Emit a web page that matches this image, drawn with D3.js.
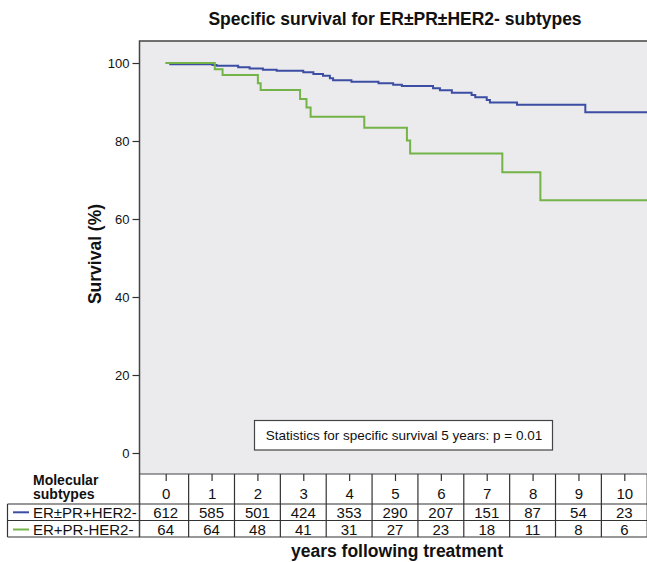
<!DOCTYPE html>
<html>
<head>
<meta charset="utf-8">
<script src="https://cdn.jsdelivr.net/npm/d3@7"></script>
<style>
  body { margin: 0; background: #fff; }
  svg text { font-family: "Liberation Sans", Arial, sans-serif; fill: #111; }
</style>
</head>
<body>
<div class="graph"></div>
<script>
// survival steps: [years, survival %]
var blueSteps = [[0,100],[0.1,99.7],[1.02,99.5],[1.11,99.3],[1.58,98.9],[1.83,98.6],[2.12,98.3],[2.42,98.0],
  [3.00,97.6],[3.22,97.2],[3.43,96.7],[3.58,96.1],[3.65,95.6],[4.05,95.2],[4.64,94.8],[4.96,94.4],
  [5.15,94.1],[5.83,93.5],[5.98,93.0],[6.24,92.4],[6.67,91.8],[6.75,91.2],[7.00,90.5],[7.07,89.9],
  [7.66,89.3],[9.15,87.4],[11,87.4]];
var greenSteps = [[0,100],[1.07,98.4],[1.24,96.9],[2.01,94.8],[2.07,93.1],[2.93,90.8],[3.07,88.6],
  [3.16,86.2],[4.33,83.4],[5.26,80.1],[5.33,76.8],[7.34,72.0],[8.17,64.8],[11,64.8]];

var subtypes = ["ER\u00b1PR+HER2-", "ER+PR-HER2-"];
var subtypeColors = ["#3b4ea3", "#74b347"];
var years = [0,1,2,3,4,5,6,7,8,9,10];
var atRisk = [
  [612,585,501,424,353,290,207,151,87,54,23],
  [64,64,48,41,31,27,23,18,11,8,6]
];
var yTicks = [0,20,40,60,80,100];

var width = 647, height = 562;

var x = d3.scaleLinear().domain([0, 10]).range([165.7, 624.3]);
var y = d3.scaleLinear().domain([0, 100]).range([453, 63]);

var plotLeft = 139.5, plotTop = 41, plotBottom = 474, plotRight = 647;
var tableLeft = 7.5, row1Top = 504, row2Top = 520.5, tableBottom = 537;

var svg = d3.select(".graph").append("svg")
    .attr("width", width)
    .attr("height", height);

// title
svg.append("text")
    .attr("x", 395).attr("y", 25)
    .attr("text-anchor", "middle")
    .style("font-size", "17.5px").style("font-weight", "bold")
    .text("Specific survival for ER\u00b1PR\u00b1HER2- subtypes");

// plot background
svg.append("rect")
    .attr("x", plotLeft).attr("y", plotTop)
    .attr("width", plotRight - plotLeft + 5).attr("height", plotBottom - plotTop)
    .attr("fill", "#ebebee");

svg.append("clipPath").attr("id", "clip")
  .append("rect")
    .attr("x", plotLeft).attr("y", plotTop)
    .attr("width", plotRight - plotLeft).attr("height", plotBottom - plotTop);

var valueline = d3.line()
    .curve(d3.curveStepAfter)
    .x(function(d) { return x(d[0]); })
    .y(function(d) { return y(d[1]); });

var curves = svg.append("g").attr("clip-path", "url(#clip)");

curves.append("path")
    .datum(blueSteps)
    .attr("fill", "none")
    .attr("stroke", subtypeColors[0])
    .attr("stroke-width", 2)
    .attr("d", valueline);

curves.append("path")
    .datum(greenSteps)
    .attr("fill", "none")
    .attr("stroke", subtypeColors[1])
    .attr("stroke-width", 2)
    .attr("d", valueline);

// frame: top and left
svg.append("path")
    .attr("d", "M" + plotLeft + "," + tableBottom + "V" + plotTop + "H" + (width + 2))
    .attr("fill", "none").attr("stroke", "#444").attr("stroke-width", 1.5);
svg.append("line")
    .attr("x1", plotLeft).attr("x2", width + 2)
    .attr("y1", plotBottom).attr("y2", plotBottom)
    .attr("stroke", "#444").attr("stroke-width", 1.2);

// y axis
var yAxis = svg.append("g")
    .attr("transform", "translate(" + plotLeft + ",0)")
    .call(d3.axisLeft(y).tickValues(yTicks).tickSize(7).tickPadding(3));
yAxis.select(".domain").remove();
yAxis.selectAll(".tick line").attr("stroke", "#333").attr("stroke-width", 1.2);
yAxis.selectAll(".tick text")
    .style("font-size", "13px")
    .style("font-family", "Liberation Sans, Arial, sans-serif")
    .attr("fill", "#111");

svg.append("text")
    .attr("transform", "translate(101,254) rotate(-90)")
    .attr("text-anchor", "middle")
    .style("font-size", "17.5px").style("font-weight", "bold")
    .text("Survival (%)");

// statistics box
svg.append("rect")
    .attr("x", 254.5).attr("y", 420.5)
    .attr("width", 298).attr("height", 29.5)
    .attr("fill", "#fff").attr("stroke", "#444").attr("stroke-width", 1.2);
svg.append("text")
    .attr("x", 404).attr("y", 440)
    .attr("text-anchor", "middle")
    .style("font-size", "13.5px")
    .text("Statistics for specific survival 5 years: p = 0.01");

// x axis ticks sitting in the table header
var xAxis = svg.append("g")
    .attr("transform", "translate(0," + plotBottom + ")")
    .call(d3.axisBottom(x).tickValues(years).tickSize(7).tickPadding(7));
xAxis.select(".domain").remove();
xAxis.selectAll(".tick line").attr("stroke", "#333").attr("stroke-width", 1.2);
xAxis.selectAll(".tick text")
    .style("font-size", "15px")
    .style("font-family", "Liberation Sans, Arial, sans-serif")
    .attr("fill", "#111");

// number at risk table
var table = svg.append("g");
var lineColor = "#333";

years.forEach(function(t) {
  table.append("line")
      .attr("x1", x(t + 0.5)).attr("x2", x(t + 0.5))
      .attr("y1", plotBottom).attr("y2", tableBottom)
      .attr("stroke", lineColor).attr("stroke-width", 1.2);
});

[row1Top, row2Top, tableBottom].forEach(function(yy) {
  table.append("line")
      .attr("x1", tableLeft).attr("x2", width + 2)
      .attr("y1", yy).attr("y2", yy)
      .attr("stroke", lineColor).attr("stroke-width", 1.2);
});
table.append("line")
    .attr("x1", tableLeft).attr("x2", tableLeft)
    .attr("y1", row1Top).attr("y2", tableBottom)
    .attr("stroke", lineColor).attr("stroke-width", 1.2);

table.append("text")
    .attr("x", 33).attr("y", 484.5)
    .style("font-size", "14px").style("font-weight", "bold")
    .text("Molecular");
table.append("text")
    .attr("x", 33).attr("y", 499)
    .style("font-size", "14px").style("font-weight", "bold")
    .text("subtypes");

var rowBase = [518, 535];
var rowMid = [512.3, 529.5];

subtypes.forEach(function(s, i) {
  table.append("line")
      .attr("x1", 13).attr("x2", 29)
      .attr("y1", rowMid[i]).attr("y2", rowMid[i])
      .attr("stroke", subtypeColors[i]).attr("stroke-width", 2);
  table.append("text")
      .attr("x", 33).attr("y", rowBase[i])
      .style("font-size", "15px")
      .text(s);
  atRisk[i].forEach(function(n, j) {
    table.append("text")
        .attr("x", x(years[j])).attr("y", rowBase[i])
        .attr("text-anchor", "middle")
        .style("font-size", "15px")
        .text(n);
  });
});

svg.append("text")
    .attr("x", 397).attr("y", 557)
    .attr("text-anchor", "middle")
    .style("font-size", "17.5px").style("font-weight", "bold")
    .text("years following treatment");
</script>
</body>
</html>
